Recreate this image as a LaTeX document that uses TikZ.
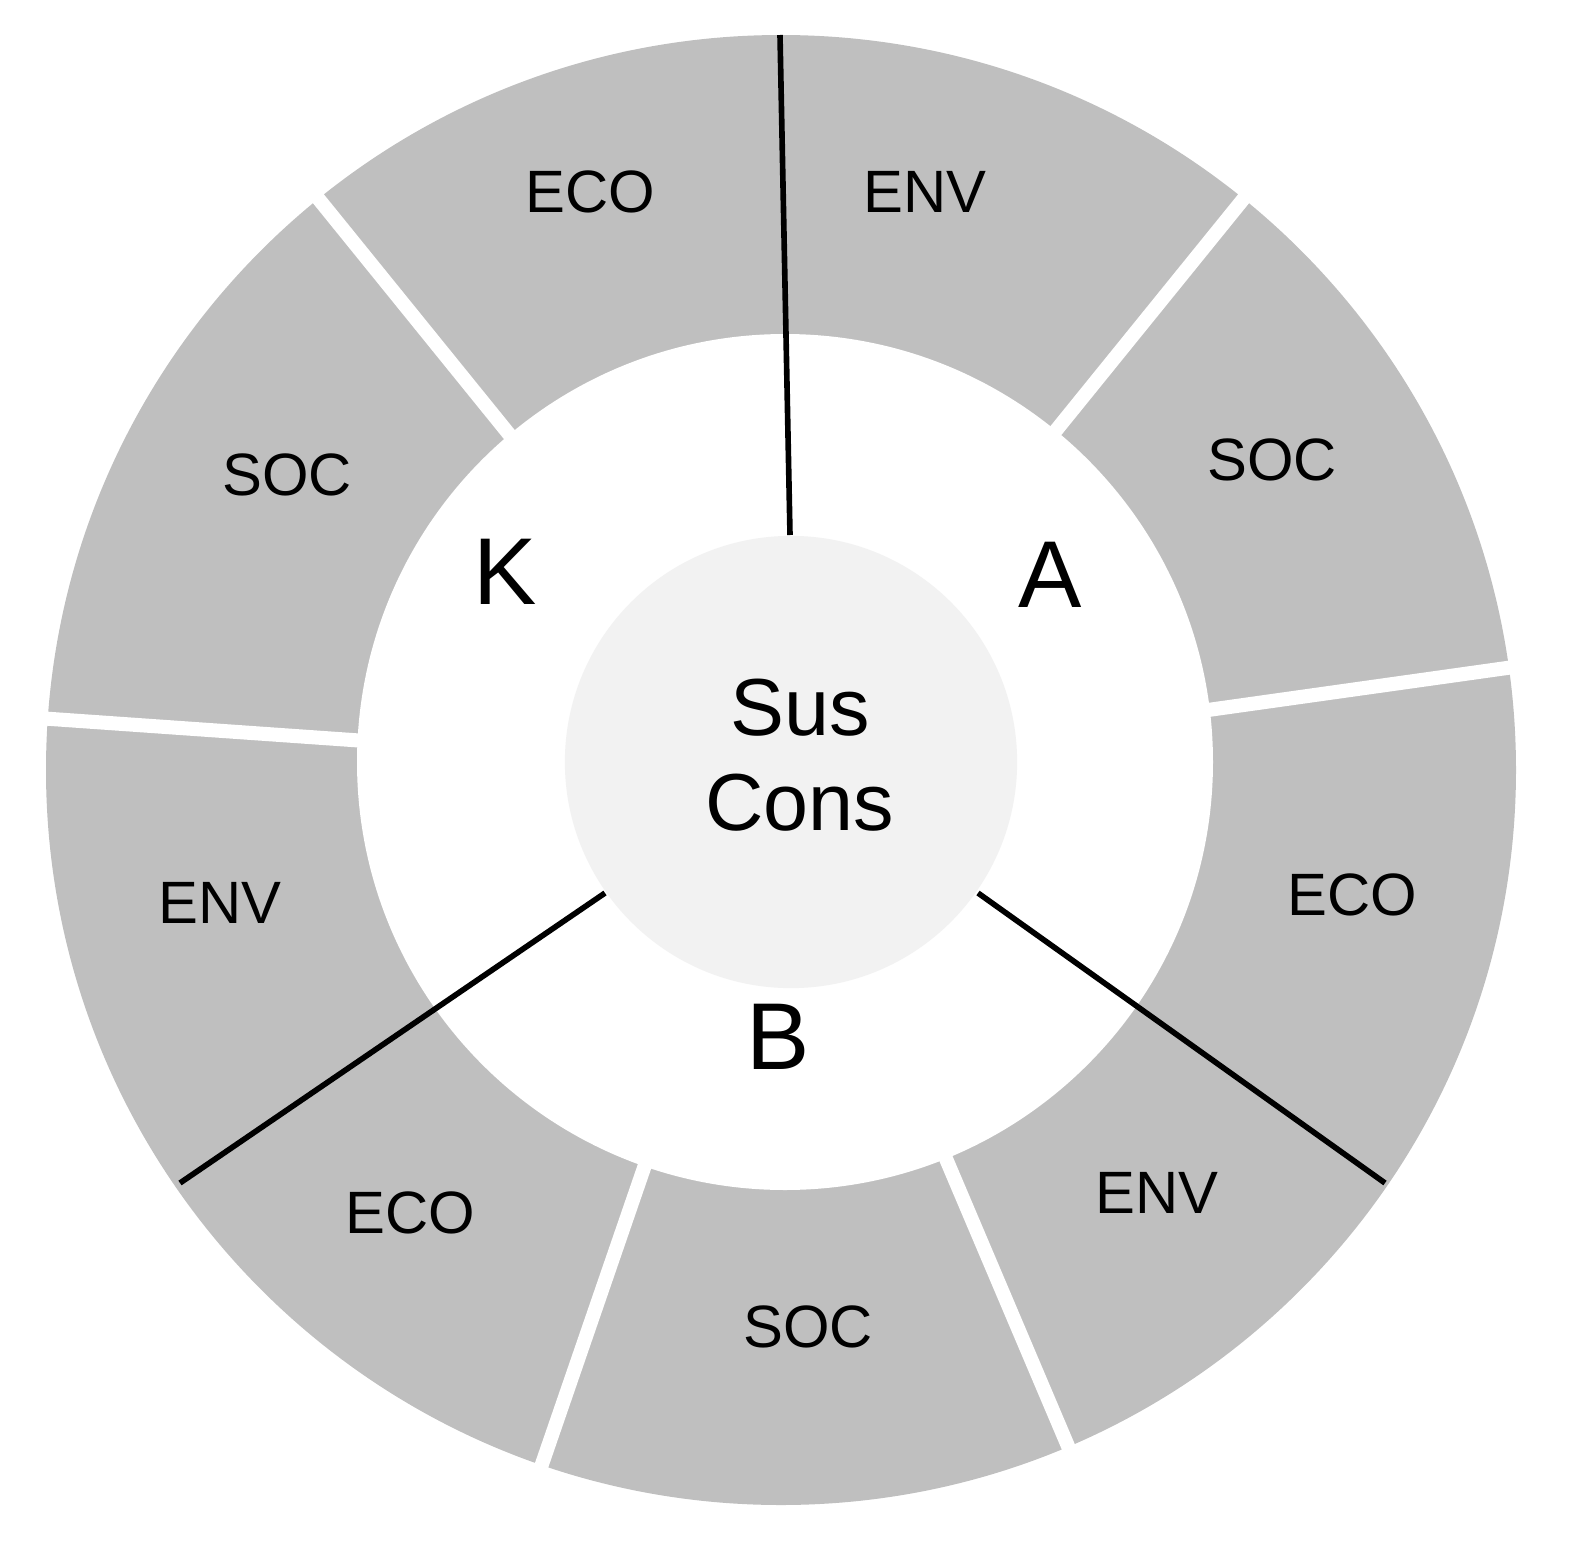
\documentclass[tikz,border=0pt]{standalone}
\usepackage{fontspec}
\setmainfont{Liberation Sans}
\begin{document}
\begin{tikzpicture}[x=0.01cm,y=-0.01cm,
  seg/.style={font=\fontsize{17}{20}\selectfont},
  big/.style={font=\fontsize{27}{30}\selectfont},
  sep/.style={white,line width=4pt},
  blk/.style={black,line width=1.6pt}]
\useasboundingbox (0,0) rectangle (1575,1557);
\definecolor{ring}{HTML}{BFBFBF}
\definecolor{core}{HTML}{F2F2F2}
\coordinate (c) at (781,770);
\fill[ring] (c) circle[radius=735];
\foreach \a in {51,8,-67,-109,176,129}{
  \draw[sep] (c) -- ++(-\a:760);
}
\fill[white] (785,762) circle[radius=428];
\node[circle,fill=core,minimum size=4.52cm,inner sep=0pt] (core) at (791,762) {};
\node[align=center,font=\fontsize{23}{27}\selectfont] (t) at (800,755) {Sus\\Cons};
\coordinate (a1) at (790,535); \coordinate (a2) at (780,35);
\coordinate (b1) at (978,893); \coordinate (b2) at (1385,1183);
\coordinate (k1) at (605,893); \coordinate (k2) at (180,1183);
\draw[blk] (a1) -- (a2);
\draw[blk] (b1) -- (b2);
\draw[blk] (k1) -- (k2);
\node[seg] (s1) at (925,192) {ENV};
\node[seg] (s2) at (590,192) {ECO};
\node[seg] (s3) at (1272,460) {SOC};
\node[seg] (s4) at (1352,895) {ECO};
\node[seg] (s5) at (1157,1193) {ENV};
\node[seg] (s6) at (808,1327) {SOC};
\node[seg] (s7) at (410,1213) {ECO};
\node[seg] (s8) at (220,903) {ENV};
\node[seg] (s9) at (287,475) {SOC};
\node[big] (K) at (505,572) {K};
\node[big] (A) at (1050,575) {A};
\node[big] (B) at (778,1037) {B};
\end{tikzpicture}
\end{document}
